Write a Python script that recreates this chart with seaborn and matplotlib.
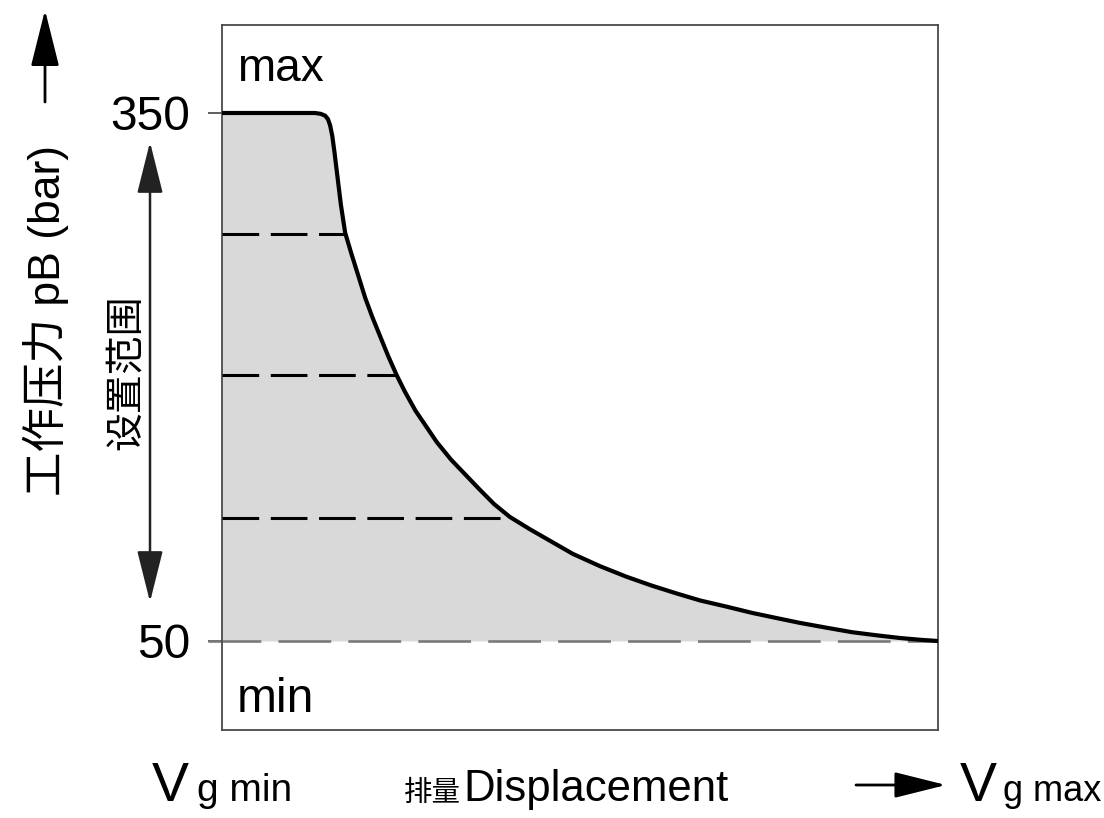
import matplotlib
matplotlib.use("Agg")
import matplotlib.pyplot as plt
import seaborn as sns

# ---- data ----
displacement = [0.000, 0.130, 0.138, 0.144, 0.148, 0.151, 0.154, 0.157, 0.160, 0.166,
                0.172, 0.180, 0.190, 0.200, 0.210, 0.221, 0.232, 0.244, 0.255, 0.270,
                0.285, 0.300, 0.320, 0.340, 0.360, 0.380, 0.402, 0.430, 0.460, 0.490,
                0.528, 0.565, 0.600, 0.635, 0.668, 0.705, 0.740, 0.775, 0.807, 0.845,
                0.880, 0.915, 0.947, 0.975, 1.000]
pressure = [350, 350, 349.5, 348.5, 346.5, 343, 337, 328, 318, 298,
            282, 271, 258, 245, 234, 223, 212, 201, 192, 181,
            172, 163, 153, 144.5, 136, 127.8, 120.5, 113.5, 106.5, 99.5,
            92.5, 86.5, 81.5, 77, 73, 69.5, 66, 63, 60.3, 57.5,
            55, 53.2, 51.7, 50.7, 50]
dash_levels = [281, 201, 120]
dash_ends = [0.172, 0.244, 0.402]
min_level = 50
tick_values = [50, 350]
tick_labels = ["50", "350"]

sns.set_theme(style="white")
plt.rcParams['font.family'] = ['Liberation Sans', 'Noto Sans CJK SC', 'DejaVu Sans']
plt.rcParams['text.color'] = 'black'
plt.rcParams['ytick.color'] = 'black'

W, H = 1104, 818
fig = plt.figure(figsize=(W / 100, H / 100), dpi=100)
ax = fig.add_axes([222 / W, 1 - 730 / H, (938 - 222) / W, (730 - 25) / H])
ax.set_xlim(0, 1)
ax.set_ylim(-0.57, 400)

# fill under the curve
ax.fill_between(displacement, [min_level] * len(displacement), pressure,
                color="#d9d9d9", lw=0, zorder=1)

# min dashed grey line
sns.lineplot(x=[-0.02, 1.0], y=[min_level, min_level], ax=ax, color="#7a7a7a",
             lw=1.9, linestyle=(0, (20, 6.5)), clip_on=False, zorder=2)

# dashed setting lines
for lvl, xe in zip(dash_levels, dash_ends):
    sns.lineplot(x=[0, xe], y=[lvl, lvl], ax=ax, color="black", lw=2.2,
                 linestyle=(0, (12, 3.8)), zorder=3)

# main curve
sns.lineplot(x=displacement, y=pressure, ax=ax, color="black", lw=3.0,
             sort=False, zorder=4)
for ln in ax.lines:
    ln.set_solid_joinstyle("round")

# axes styling
for s in ax.spines.values():
    s.set_color("#4a4a4a")
    s.set_linewidth(1.3)
ax.set_xticks([])
ax.set_yticks(tick_values)
ax.set_yticklabels(tick_labels, fontsize=34.5, color="black")
ax.tick_params(axis="y", left=True, length=10, width=1.1, color="#333333",
               pad=13, direction="out")
ax.set_xlabel("")
ax.set_ylabel("")

# in-axes labels
ax.text(15 / 716, 375, "max", fontsize=33, ha="left", va="center", color="black")
ax.text(15 / 716, 17, "min", fontsize=34.5, ha="left", va="center", color="black")

def fp(x, y):
    return (x, H - y)

# y label
fig.text(46 / W, 1 - 320 / H, "工作压力 pB (bar)", rotation=90, fontsize=32,
         ha="center", va="center", color="black")
# top-left arrow
ax.annotate("", xy=fp(45, 10), xytext=fp(45, 102), xycoords="figure pixels",
            textcoords="figure pixels",
            arrowprops=dict(arrowstyle="-|>,head_length=2.2,head_width=0.55",
                            mutation_scale=16, lw=2, color="black",
                            shrinkA=0, shrinkB=0))
# setting range double arrow and text
ax.annotate("", xy=fp(150, 142), xytext=fp(150, 602), xycoords="figure pixels",
            textcoords="figure pixels",
            arrowprops=dict(arrowstyle="<|-|>,head_length=2.0,head_width=0.5",
                            mutation_scale=16, lw=1.8, color="#222222",
                            shrinkA=0, shrinkB=0))
fig.text(127 / W, 1 - 372 / H, "设置范围", rotation=90, fontsize=28,
         ha="center", va="center", color="black")

# bottom labels
base = 1 - 801 / H
fig.text(152 / W, base, "V", fontsize=40, ha="left", va="baseline")
fig.text(197 / W, base, "g min", fontsize=28, ha="left", va="baseline")
fig.text(404 / W, base, "排量", fontsize=20.5, ha="left", va="baseline")
fig.text(463 / W, base, "Displacement", fontsize=31.5, ha="left", va="baseline")
ax.annotate("", xy=fp(946, 785), xytext=fp(856, 785), xycoords="figure pixels",
            textcoords="figure pixels",
            arrowprops=dict(arrowstyle="-|>,head_length=2.0,head_width=0.5",
                            mutation_scale=16, lw=2, color="black",
                            shrinkA=0, shrinkB=0))
fig.text(960 / W, base, "V", fontsize=40, ha="left", va="baseline")
fig.text(1003 / W, base, "g max", fontsize=26, ha="left", va="baseline")

fig.savefig("out.png", dpi=100)
